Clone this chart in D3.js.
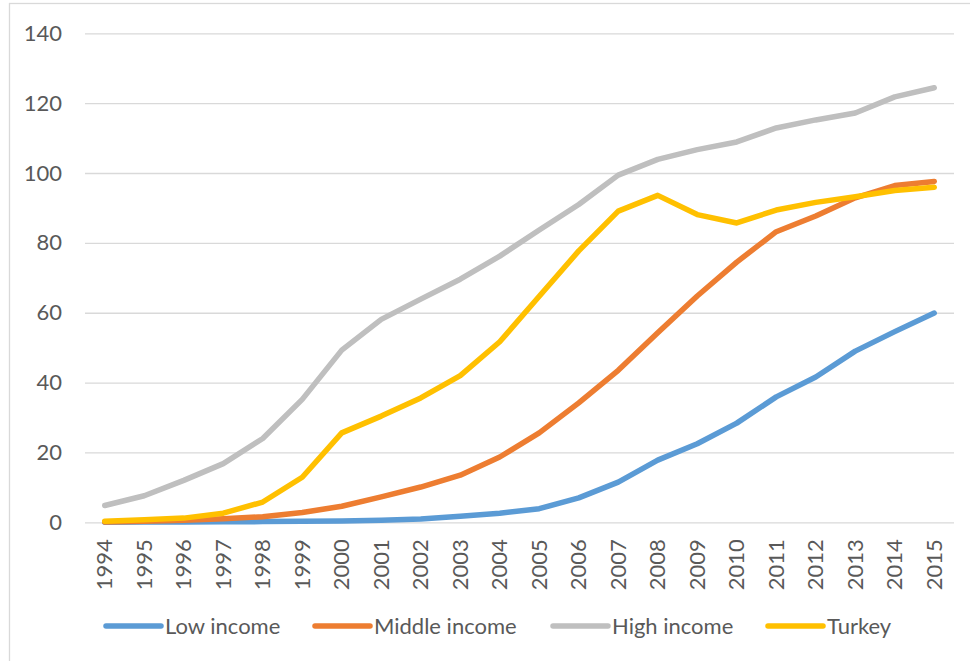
<!DOCTYPE html>
<html>
<head>
<meta charset="utf-8">
<script src="https://cdnjs.cloudflare.com/ajax/libs/d3/7.8.5/d3.min.js"></script>
<style>
  html, body { margin: 0; padding: 0; background: #fff; }
  svg { display: block; }
</style>
</head>
<body>
<svg id="chart" width="970" height="661"></svg>
<script>
const years = ["1994","1995","1996","1997","1998","1999","2000","2001","2002","2003","2004",
               "2005","2006","2007","2008","2009","2010","2011","2012","2013","2014","2015"];
const lowIncome    = [0.05,0.1,0.1,0.15,0.2,0.3,0.4,0.6,0.95,1.7,2.6,3.9,7.0,11.5,17.8,22.5,28.4,35.9,41.6,49.0,54.6,59.9];
const middleIncome = [0.1,0.3,0.6,1.0,1.6,2.8,4.6,7.3,10.1,13.5,18.7,25.6,34.2,43.5,54.3,64.8,74.5,83.2,87.7,92.9,96.4,97.6];
const highIncome   = [4.8,7.6,12.0,16.8,24.0,35.2,49.3,58.1,63.9,69.6,76.2,83.7,91.0,99.4,103.9,106.7,108.9,112.9,115.2,117.2,121.8,124.4];
const turkey       = [0.3,0.7,1.2,2.6,5.8,12.9,25.6,30.4,35.6,42.0,51.7,64.7,77.7,89.1,93.6,88.1,85.7,89.4,91.6,93.2,95.0,95.9];
const yTicks = [0,20,40,60,80,100,120,140];
const seriesNames  = ["Low income","Middle income","High income","Turkey"];
const seriesColors = ["#5B9BD5","#ED7D31","#BFBFBF","#FFC000"];
const seriesValues = [lowIncome, middleIncome, highIncome, turkey];

const svg = d3.select("#chart");
const font = "Lato, 'Open Sans', sans-serif";
const textColor = "#595959";
const fontSize = "22px";

// outer chart border
svg.append("rect").attr("x",9.5).attr("y",3.5).attr("width",1000).attr("height",700)
  .attr("fill","none").attr("stroke","#D9D9D9").attr("stroke-width",1.3);

const plot = {left:85, right:954, top:33.3, bottom:522.3};
const x = d3.scaleBand().domain(years).range([plot.left, plot.right]).paddingInner(0).paddingOuter(0);
const y = d3.scaleLinear().domain([0,140]).range([plot.bottom, plot.top]);
const xc = d => x(d) + x.bandwidth()/2;

// gridlines
const yAxis = d3.axisLeft(y).tickValues(yTicks).tickSize(-(plot.right-plot.left)).tickPadding(23);
const gy = svg.append("g").attr("transform",`translate(${plot.left},0)`).call(yAxis);
gy.select(".domain").remove();
gy.selectAll(".tick line").attr("stroke","#D9D9D9").attr("stroke-width",1.3);
gy.selectAll(".tick text").attr("fill",textColor).style("font-family",font).style("font-size",fontSize);

// x axis labels
const xAxis = d3.axisBottom(x).tickSize(0).tickPadding(0);
const gx = svg.append("g").attr("transform",`translate(0,${plot.bottom})`).call(xAxis);
gx.select(".domain").remove();
gx.selectAll(".tick text")
  .attr("fill",textColor).style("font-family",font).style("font-size",fontSize)
  .attr("text-anchor","end").attr("dy","0.35em")
  .attr("transform","translate(0,17) rotate(-90)").attr("x",0).attr("y",0);

// lines
const line = d3.line().x((d,i)=>xc(years[i])).y(d=>y(d));
seriesValues.forEach((vals,k)=>{
  svg.append("path").datum(vals).attr("d",line)
    .attr("fill","none").attr("stroke",seriesColors[k]).attr("stroke-width",5.5)
    .attr("stroke-linecap","round").attr("stroke-linejoin","round");
});

// legend
const legendX = [106, 315, 553, 768];
const lg = svg.append("g");
seriesNames.forEach((name,k)=>{
  lg.append("line").attr("x1",legendX[k]).attr("x2",legendX[k]+55).attr("y1",626).attr("y2",626)
    .attr("stroke",seriesColors[k]).attr("stroke-width",5.5).attr("stroke-linecap","round");
  lg.append("text").attr("x",legendX[k]+59).attr("y",626).attr("dy","0.35em")
    .attr("fill",textColor).style("font-family",font).style("font-size",fontSize).text(name);
});
</script>
</body>
</html>
